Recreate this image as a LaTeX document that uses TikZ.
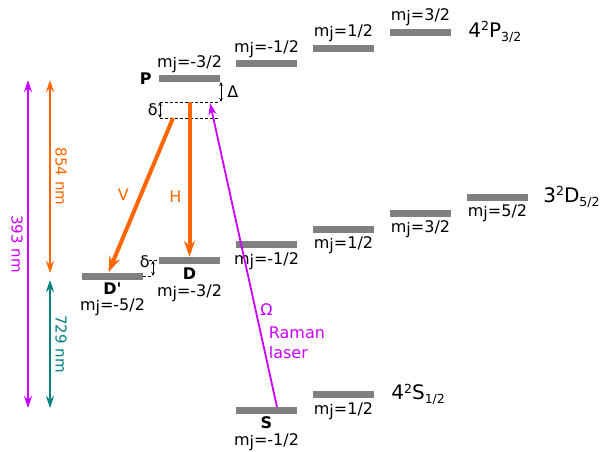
\documentclass[tikz,border=0pt]{standalone}
\usepackage{fontspec}
\setmainfont{DejaVu Sans}
\usetikzlibrary{shapes,arrows,arrows.meta,positioning,calc}
\definecolor{levgray}{HTML}{808080}
\definecolor{laserorange}{HTML}{FF6600}
\definecolor{laserviolet}{HTML}{CC00FF}
\definecolor{laserteal}{HTML}{008080}
\newcommand{\mjval}[1]{m\raisebox{-2pt}{j}=#1}
\newcommand{\termsym}[3]{#1\raisebox{6.5pt}{\fontsize{12.5}{12.5}\selectfont 2}#2\raisebox{-4pt}{\fontsize{12.5}{12.5}\selectfont #3}}

\begin{document}
\begin{tikzpicture}[x=1pt, y=-1pt, >=Stealth,
    font=\fontsize{16}{20}\selectfont, inner sep=1pt,
    lvl/.style={fill=levgray, minimum width=61pt, minimum height=7pt, inner sep=0pt},
    statelab/.style={font=\fontsize{16}{20}\selectfont\bfseries, inner sep=0pt},
    mjlab/.style={inner sep=0pt},
    termlab/.style={font=\fontsize{20}{24}\selectfont, inner sep=0pt},
    beam/.style={line width=4pt, laserorange, -{Stealth[length=16pt,width=11pt]}},
    raman/.style={line width=1.8pt, laserviolet, -{Stealth[length=12pt,width=8pt]}},
    wavespan/.style={line width=1.5pt, {Stealth[length=12pt,width=8pt]}-{Stealth[length=12pt,width=8pt]}},
    virt/.style={line width=0.8pt, dash pattern=on 3pt off 2pt},
    splitarr/.style={line width=0.8pt, {Stealth[length=4pt,width=3.5pt]}-{Stealth[length=4pt,width=3.5pt]}}]
    \useasboundingbox (0,0) rectangle (600,451);

    % 4^2P_{3/2}
    \node [lvl] (Pm3) at (189.5,78.5) {};
    \node [lvl] (Pm1) at (266.5,63.5) {};
    \node [lvl] (Pp1) at (343.5,48) {};
    \node [lvl] (Pp3) at (420.5,32) {};
    \node [mjlab, above=2pt of Pm3] (Pm3l) {\mjval{-3/2}};
    \node [mjlab, above=2pt of Pm1] (Pm1l) {\mjval{-1/2}};
    \node [mjlab, above=2pt of Pp1] (Pp1l) {\mjval{1/2}};
    \node [mjlab, above=2pt of Pp3] (Pp3l) {\mjval{3/2}};
    \node [statelab, left=7pt of Pm3] (Plab) {P};
    \node [termlab, right=17pt of Pp3] (Pterm) {\termsym{4}{P}{3/2}};

    % 3^2D_{5/2}
    \node [lvl] (Dm5) at (112.5,276) {};
    \node [lvl] (Dm3) at (189.5,260.5) {};
    \node [lvl] (Dm1) at (266.5,244.5) {};
    \node [lvl] (Dp1) at (343.5,229) {};
    \node [lvl] (Dp3) at (420.5,213) {};
    \node [lvl] (Dp5) at (497.5,197) {};
    \node [statelab, below=3pt of Dm5] (Dm5s) {D\textquotesingle};
    \node [mjlab, below=4pt of Dm5s] (Dm5l) {\mjval{-5/2}};
    \node [statelab, below=3pt of Dm3] (Dm3s) {D};
    \node [mjlab, below=5pt of Dm3s] (Dm3l) {\mjval{-3/2}};
    \node [mjlab, below=4pt of Dm1] (Dm1l) {\mjval{-1/2}};
    \node [mjlab, below=4pt of Dp1] (Dp1l) {\mjval{1/2}};
    \node [mjlab, below=4pt of Dp3] (Dp3l) {\mjval{3/2}};
    \node [mjlab, below=4pt of Dp5] (Dp5l) {\mjval{5/2}};
    \node [termlab, right=15pt of Dp5] (Dterm) {\termsym{3}{D}{5/2}};

    % 4^2S_{1/2}
    \node [lvl] (Sm1) at (266.5,410) {};
    \node [lvl] (Sp1) at (343.5,394.5) {};
    \node [statelab, below=3pt of Sm1] (Sm1s) {S};
    \node [mjlab, below=4pt of Sm1s] (Sm1l) {\mjval{-1/2}};
    \node [mjlab, below=4pt of Sp1] (Sp1l) {\mjval{1/2}};
    \node [termlab, right=17pt of Sp1] (Sterm) {\termsym{4}{S}{1/2}};

    % virtual level and detunings
    \coordinate (vtl) at (160,102);
    \coordinate (vtr) at (218,102);
    \coordinate (vbl) at (160,118);
    \coordinate (vbr) at (218,118);
    \draw [virt] (vtl) -- (vtr);
    \draw [virt] (vbl) -- (vbr);
    \draw [splitarr] (vtl) -- node[left=1pt] {δ} (vbl);
    \coordinate (dtop) at (221,82);
    \coordinate (dbot) at (221,102);
    \draw [splitarr] (dtop) -- node[right=5pt] {Δ} (dbot);
    \coordinate (dd1) at (153,260.5);
    \coordinate (dd2) at (153,276);
    \coordinate (dd3) at (149,260.5);
    \draw [virt] (Dm5.east) -- (dd2);
    \draw [virt] (dd3) -- (Dm3.west);
    \draw [splitarr] (dd1) -- node[left=2pt, pos=0.1] {δ} (dd2);

    % lasers
    \coordinate (vstart) at (173,118);
    \draw [beam] (Dm3.north |- vtl) -- node[pos=0.61, left=5pt, text=laserorange] {H} (Dm3.north);
    \draw [beam] (vstart) -- node[pos=0.5, left=9pt, text=laserorange] {V} ($(Dm5.north)+(-4pt,0)$);
    \coordinate (rstart) at (277,407);
    \coordinate (rend) at (210,103);
    \draw [raman] (rstart) -- node[pos=0.32, right=3pt, text=laserviolet] {Ω}
        node[pos=0.21, right=4pt, align=left, text=laserviolet] {Raman\\laser} (rend);

    % wavelengths
    \coordinate (u393) at (28,80);
    \coordinate (l393) at (28,408);
    \coordinate (u854) at (50,80);
    \coordinate (l854) at (50,273);
    \coordinate (u729) at (50,280);
    \coordinate (l729) at (50,408);
    \draw [wavespan, laserviolet] (u393) -- node[xshift=-11pt, rotate=-90, text=laserviolet, font=\fontsize{15}{18}\selectfont] {393 nm} (l393);
    \draw [wavespan, laserorange] (u854) -- node[xshift=11pt, rotate=-90, text=laserorange, font=\fontsize{15}{18}\selectfont] {854 nm} (l854);
    \draw [wavespan, laserteal] (u729) -- node[xshift=11pt, rotate=-90, text=laserteal, font=\fontsize{15}{18}\selectfont] {729 nm} (l729);
\end{tikzpicture}
\end{document}
